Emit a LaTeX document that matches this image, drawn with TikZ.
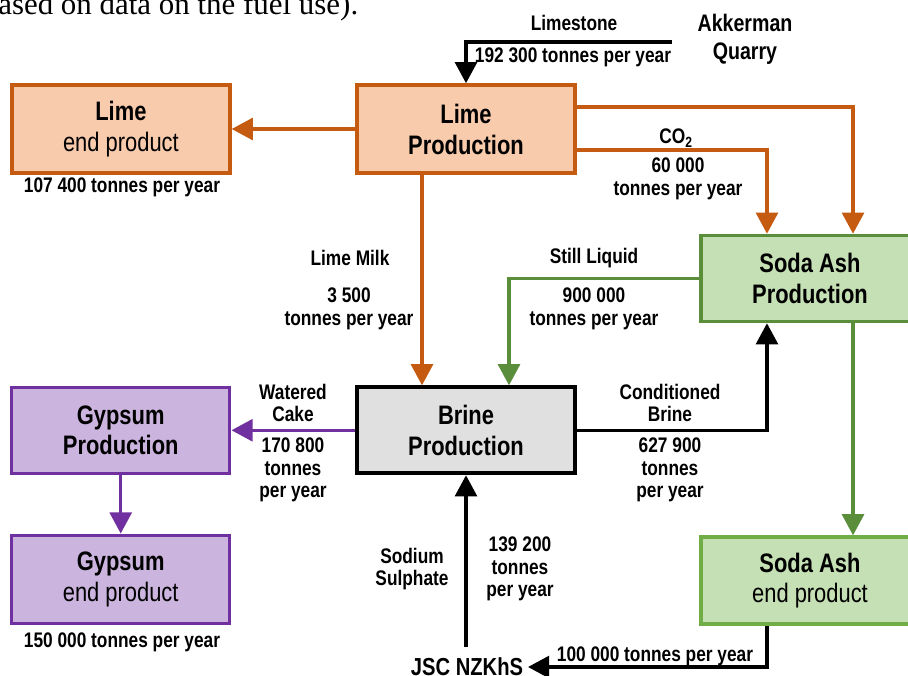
\documentclass[tikz,border=0pt]{standalone}
\usepackage{fontspec}
\setmainfont{Liberation Sans}[FakeStretch=0.82]
\newfontfamily\textserif{Liberation Serif}
\usepackage{tikz}
\usetikzlibrary{arrows.meta, positioning}
\definecolor{limeline}{HTML}{C55A11}
\definecolor{limefill}{HTML}{F8CBAD}
\definecolor{sodaline}{HTML}{5A8E3A}
\definecolor{sodaendline}{HTML}{70AD47}
\definecolor{sodafill}{HTML}{C5E0B4}
\definecolor{gypline}{HTML}{7030A0}
\definecolor{gypfill}{HTML}{CBB4DE}
\definecolor{brinefill}{HTML}{E0E0E0}

\begin{document}
\begin{tikzpicture}[
        x=0.025cm, y=-0.025cm,
        every node/.style={font=\fontsize{15}{16}\selectfont\bfseries},
        box/.style={draw, line width=2.5pt, minimum width=5.45cm, minimum height=2.2cm,
                    align=center, font=\fontsize{19}{22}\selectfont},
        prodbox/.style={box, font=\fontsize{19}{22}\selectfont\bfseries},
        lime/.style={draw=limeline, fill=limefill},
        soda/.style={draw=sodaline, fill=sodafill, minimum height=2.15cm},
        sodaend/.style={draw=sodaendline, fill=sodafill, minimum height=2.175cm},
        gyp/.style={draw=gypline, fill=gypfill},
        brn/.style={draw=black, line width=2.8pt, fill=brinefill, minimum height=2.15cm},
        lbl/.style={align=center, inner sep=1pt},
        arr/.style={-{Triangle[length=0.53cm, width=0.55cm]}, line width=2.2pt}
    ]
        \useasboundingbox (0,0) rectangle (908,676);
        \clip (0,0) rectangle (908,676);

        \node[anchor=base west, inner sep=0, font=\textserif\fontsize{22}{26}\selectfont]
            (fueltext) at (-2,15) {ased on data on the fuel use).};

        \node[prodbox, lime] (limeprod) at (466,129)     {Lime\\Production};
        \node[box, lime]     (limeend)  [left=3.087cm of limeprod]
            {{\bfseries Lime}\\end product};
        \node[prodbox, brn]  (brine)    [below=5.262cm of limeprod] {Brine\\Production};
        \node[prodbox, gyp, minimum height=2.15cm] (gypprod) [left=3.087cm of brine]
            {Gypsum\\Production};
        \node[box, gyp]      (gypend)   [below=1.462cm of gypprod]
            {{\bfseries Gypsum}\\end product};
        \node[prodbox, soda] (sodaprod) at (810,278.5)   {Soda Ash\\Production};
        \node[box, sodaend]  (sodaendp) [below=5.30cm of sodaprod]
            {{\bfseries Soda Ash}\\end product};

        \coordinate (quarryin) at (672,42);
        \node[lbl] (lbllimestone) at (574,23)  {Limestone};
        \node[lbl] (lbllsamount)  at (573,57)  {192 300 tonnes per year};
        \node[lbl, font=\fontsize{17}{19.7}\selectfont\bfseries] (lblquarry) at (745,39) {Akkerman\\Quarry};
        \node[lbl] (lbllimeend)   at (122,187) {107 400 tonnes per year};
        \node[lbl] (lblco)        at (676,138) {CO\textsubscript{2}};
        \node[lbl] (lblcoamount)  at (678,179) {60 000\\tonnes per year};
        \node[lbl] (lblmilk)      at (350,258) {Lime Milk};
        \node[lbl] (lblmilkamt)   at (349,309) {3 500\\tonnes per year};
        \node[lbl] (lblstill)     at (594,258) {Still Liquid};
        \node[lbl] (lblstillamt)  at (594,309) {900 000\\tonnes per year};
        \node[lbl] (lblcake)      at (293,403) {Watered\\Cake};
        \node[lbl] (lblcakeamt)   at (293,470) {170 800\\tonnes\\per year};
        \node[lbl] (lblcond)      at (670,403) {Conditioned\\Brine};
        \node[lbl] (lblcondamt)   at (670,470) {627 900\\tonnes\\per year};
        \node[lbl] (lblsodium)    at (412,569) {Sodium\\Sulphate};
        \node[lbl] (lblsodiumamt) at (520,569) {139 200\\tonnes\\per year};
        \node[lbl] (lblgypend)    at (122,642) {150 000 tonnes per year};
        \node[lbl] (lblsodaend)   at (655,656) {100 000 tonnes per year};
        \node[font=\fontsize{17.5}{20}\selectfont\bfseries] (jsc) at (467,667) {JSC NZKhS};

        % lime lines
        \draw[arr, limeline] (limeprod) -- (limeend);
        \draw[arr, limeline] ([yshift=0.55cm]limeprod.east) -| ([xshift=1.075cm]sodaprod.north);
        \draw[arr, limeline] ([yshift=-0.525cm]limeprod.east) -| ([xshift=-1.075cm]sodaprod.north);
        \draw[arr, limeline] ([xshift=-1.1cm]limeprod.south) -- ([xshift=-1.1cm]brine.north);

        \draw[arr, sodaline] (sodaprod.west) -| ([xshift=1.075cm]brine.north);
        \draw[arr, sodaline] ([xshift=1.075cm]sodaprod.south) -- ([xshift=1.075cm]sodaendp.north);
        \draw[arr, gypline] (brine) -- (gypprod);
        \draw[arr, gypline] (gypprod) -- (gypend);

        \draw[arr] (quarryin) -| (limeprod.north);
        \draw[arr] (brine.east) -| ([xshift=-1.075cm]sodaprod.south);
        \draw[arr, shorten <=0.15cm] (brine.south |- jsc.north) -- (brine.south);
        \draw[arr] ([xshift=-1.075cm]sodaendp.south) |- (jsc);
    \end{tikzpicture}
\end{document}
